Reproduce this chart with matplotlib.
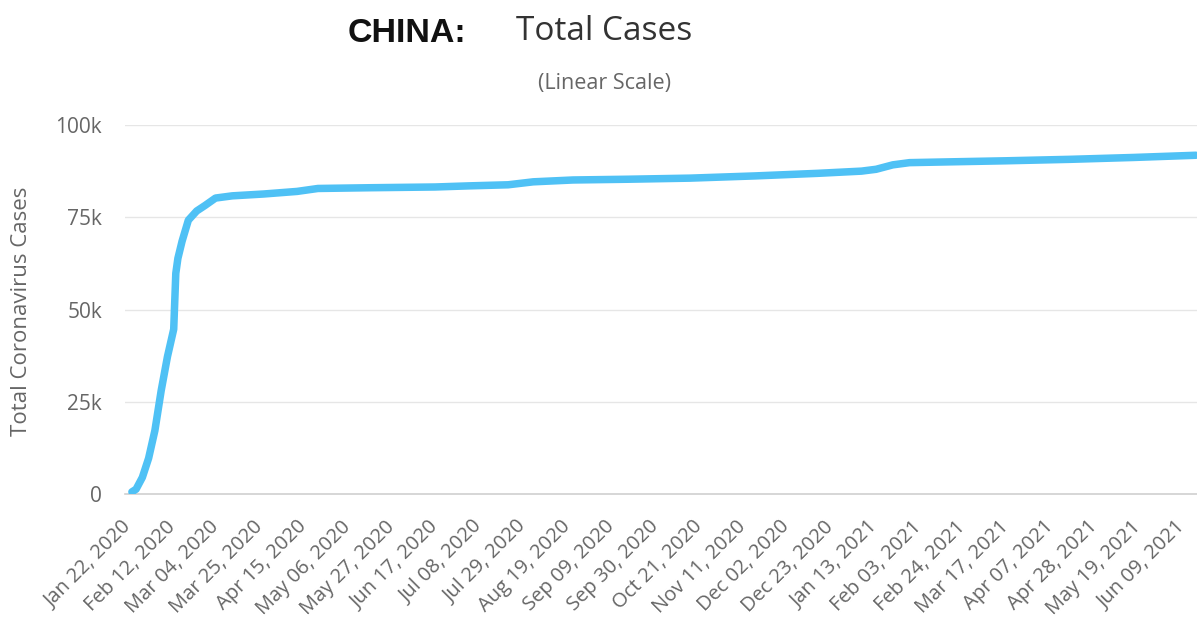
import matplotlib
matplotlib.use("Agg")
import matplotlib.pyplot as plt
import datetime as dt

# Data
dates = ["2020-01-22", "2020-01-24", "2020-01-27", "2020-01-30", "2020-02-02",
         "2020-02-05", "2020-02-08", "2020-02-11", "2020-02-12", "2020-02-13",
         "2020-02-15", "2020-02-18", "2020-02-22", "2020-02-26", "2020-03-02",
         "2020-03-10", "2020-03-25", "2020-04-10", "2020-04-20", "2020-05-15",
         "2020-06-15", "2020-07-01", "2020-07-20", "2020-08-01", "2020-08-20",
         "2020-09-15", "2020-10-15", "2020-11-15", "2020-12-15", "2021-01-05",
         "2021-01-12", "2021-01-20", "2021-01-28", "2021-02-15", "2021-03-15",
         "2021-04-15", "2021-05-15", "2021-06-14"]
total_cases = [571, 1300, 4500, 9700, 17200,
               28000, 37200, 44650, 59800, 63850,
               68500, 74200, 76700, 78200, 80200,
               80800, 81300, 82000, 82800, 83000,
               83200, 83500, 83800, 84600, 85100,
               85300, 85600, 86200, 86900, 87500,
               88000, 89200, 89800, 90000, 90300,
               90700, 91200, 91800]
y_ticks = [0, 25000, 50000, 75000, 100000]
y_tick_labels = ["0", "25k", "50k", "75k", "100k"]
tick_start = "2020-01-22"
tick_step_days = 21
n_ticks = 25

x = [dt.datetime.strptime(d, "%Y-%m-%d") for d in dates]
start = dt.datetime.strptime(tick_start, "%Y-%m-%d")
xticks = [start + dt.timedelta(days=tick_step_days * i) for i in range(n_ticks)]

fig = plt.figure(figsize=(11.97, 6.17), dpi=100)
ax = fig.add_axes([125 / 1197, 1 - 494 / 617, 1 - 125 / 1197, (494 - 125) / 617])

ax.plot(x, total_cases, color="#4fc1f5", lw=5.4, solid_capstyle="round",
        solid_joinstyle="round", zorder=3)

ax.set_ylim(0, 100000)
ax.set_xlim(start - dt.timedelta(days=3.3), start + dt.timedelta(days=509.5))
ax.set_yticks(y_ticks)
ax.set_yticklabels(y_tick_labels)
ax.set_xticks(xticks)
ax.set_xticklabels([d.strftime("%b %d, %Y") for d in xticks], rotation=45,
                   ha="right", va="baseline", rotation_mode="anchor")

for s in ["top", "right", "left"]:
    ax.spines[s].set_visible(False)
ax.spines["bottom"].set_color("#d0d0d0")
ax.spines["bottom"].set_linewidth(1.2)
ax.grid(axis="y", color="#e6e6e6", lw=1.0)
ax.set_axisbelow(True)
ax.tick_params(axis="y", length=0, pad=16.5, labelsize=15, labelcolor="#666666")
ax.tick_params(axis="x", length=0, pad=24, labelsize=14.5, labelcolor="#666666")
for lab in ax.get_xticklabels() + ax.get_yticklabels():
    lab.set_fontfamily("Open Sans")

fig.text(22 / 1197, 1 - 311 / 617, "Total Coronavirus Cases", rotation=90,
         ha="center", va="center", fontsize=16, color="#666666", family="Open Sans")

fig.text(348 / 1197, 1 - 33 / 617, "CHINA:", ha="left", va="center",
         fontsize=24.5, fontweight="bold", color="#111111", family="Liberation Sans")
fig.text(604 / 1197, 1 - 31 / 617, "Total Cases", ha="center", va="center",
         fontsize=24, color="#333333", family="Open Sans")
fig.text(605 / 1197, 1 - 84 / 617, "(Linear Scale)", ha="center", va="center",
         fontsize=15.5, color="#666666", family="Open Sans")

fig.savefig("out.png", dpi=100, facecolor="white")
